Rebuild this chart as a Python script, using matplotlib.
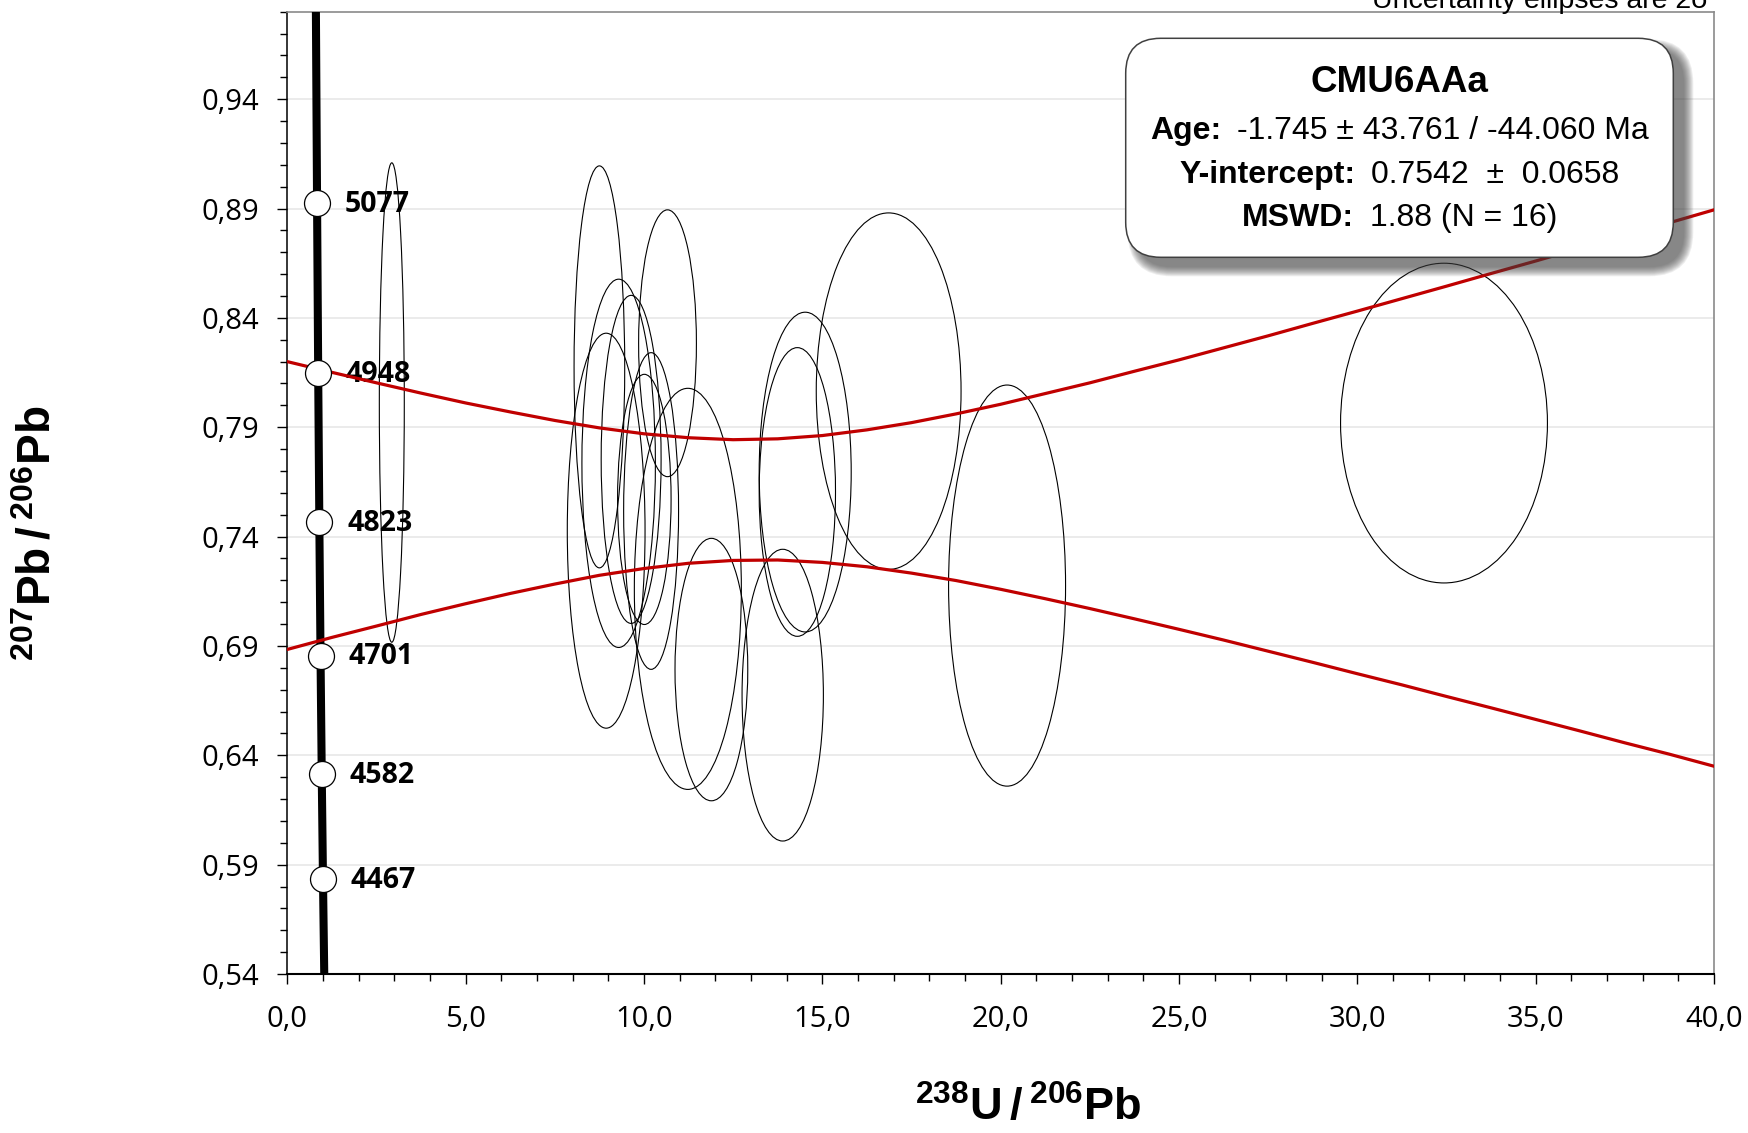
import numpy as np
import matplotlib
matplotlib.use("Agg")
import matplotlib.pyplot as plt
from matplotlib.patches import Ellipse, FancyBboxPatch
from matplotlib.offsetbox import TextArea, HPacker, AnnotationBbox
from matplotlib.ticker import FixedLocator, MultipleLocator, FuncFormatter

plt.rcParams["mathtext.fontset"] = "custom"
plt.rcParams["mathtext.rm"] = "Liberation Sans"
plt.rcParams["mathtext.bf"] = "Liberation Sans:bold"

# Tera-Wasserburg concordia with the labelled ages (Ma)
conc_x = [0.802, 0.8346, 0.8661, 0.8983, 0.9315, 0.9656, 1.0003, 1.036]
conc_y = [0.980, 0.8924, 0.8149, 0.7465, 0.6856, 0.6314, 0.5833, 0.540]
age_ma = ["5077", "4948", "4823", "4701", "4582", "4467"]
age_x = [0.8346, 0.8661, 0.8983, 0.9315, 0.9656, 1.0003]
age_y = [0.8924, 0.8149, 0.7465, 0.6856, 0.6314, 0.5833]

# analyses: 238U/206Pb, 207Pb/206Pb and 2-sigma half widths
ell_x = [2.93, 8.75, 10.66, 9.29, 9.64, 8.94, 10.20, 10.01, 11.23, 11.89, 13.89, 14.52, 14.30, 16.86, 20.18, 32.43]
ell_y = [0.8013, 0.8176, 0.8284, 0.7735, 0.7753, 0.7427, 0.7517, 0.7570, 0.7161, 0.6792, 0.6675, 0.7695, 0.7604, 0.8065, 0.7176, 0.7919]
ell_sx = [0.35, 0.71, 0.81, 1.03, 0.84, 1.09, 0.77, 0.75, 1.50, 1.02, 1.14, 1.29, 1.07, 2.03, 1.64, 2.90]
ell_sy = [0.1096, 0.0919, 0.0610, 0.0842, 0.0750, 0.0903, 0.0724, 0.0572, 0.0917, 0.0600, 0.0667, 0.0731, 0.0660, 0.0815, 0.0917, 0.0731]

# regression error envelope
env_x = [0, 1.25, 2.5, 3.75, 5, 6.25, 7.5, 8.75, 10, 11.25, 12.5, 13.75, 15, 16.25, 17.5, 18.75,
         20, 21.25, 22.5, 23.75, 25, 26.25, 27.5, 28.75, 30, 31.25, 32.5, 33.75, 35, 36.25,
         37.5, 38.75, 40]
env_hi = [0.8200, 0.8151, 0.8103, 0.8056, 0.8011, 0.7970, 0.7931, 0.7897, 0.7870, 0.7852, 0.7843,
          0.7847, 0.7862, 0.7888, 0.7921, 0.7961, 0.8005, 0.8054, 0.8103, 0.8156, 0.8208, 0.8263,
          0.8318, 0.8375, 0.8431, 0.8488, 0.8545, 0.8603, 0.8660, 0.8719, 0.8777, 0.8835, 0.8894]
env_lo = [0.6884, 0.6939, 0.6991, 0.7044, 0.7093, 0.7140, 0.7183, 0.7223, 0.7254, 0.7278, 0.7291,
          0.7293, 0.7282, 0.7262, 0.7233, 0.7199, 0.7159, 0.7116, 0.7071, 0.7024, 0.6976, 0.6927,
          0.6876, 0.6825, 0.6773, 0.6722, 0.6669, 0.6617, 0.6564, 0.6511, 0.6457, 0.6405, 0.6350]

sample = "CMU6AAa"
stats = [("Age:", "-1.745 \u00b1 43.761 / -44.060 Ma"),
         ("Y-intercept:", "0.7542  \u00b1  0.0658"),
         ("MSWD:", "1.88 (N = 16)")]

W, H = 1749, 1133
fig = plt.figure(figsize=(W / 100, H / 100), dpi=100)
ax = fig.add_axes([287.3 / W, 1 - 974 / H, (1714 - 287.3) / W, (974 - 11.7) / H])

ax.set_xlim(0, 40)
ax.set_ylim(0.54, 0.98)
ax.xaxis.set_major_locator(MultipleLocator(5))
ax.xaxis.set_minor_locator(MultipleLocator(1))
ax.yaxis.set_major_locator(FixedLocator(np.arange(0.54, 0.945, 0.05)))
ax.yaxis.set_minor_locator(FixedLocator(np.arange(0.54, 0.985, 0.01)))
ax.xaxis.set_major_formatter(FuncFormatter(lambda v, p: f"{v:.1f}".replace(".", ",")))
ax.yaxis.set_major_formatter(FuncFormatter(lambda v, p: f"{v:.2f}".replace(".", ",")))
ax.yaxis.grid(True, which="major", color="#e6e6e6", lw=1.1)
ax.set_axisbelow(True)

ax.tick_params(which="major", direction="out", length=7.5, width=1, color="black",
               labelsize=21, pad=13)
ax.tick_params(which="minor", direction="out", length=5, width=1, color="black")
ax.tick_params(axis="x", pad=15)
for lab in ax.get_xticklabels() + ax.get_yticklabels():
    lab.set_family("Open Sans")

for side in ("top", "right"):
    ax.spines[side].set_color("#8a8a8a")
    ax.spines[side].set_linewidth(1.2)
ax.spines["left"].set_linewidth(1.1)
ax.spines["bottom"].set_linewidth(1.5)

# concordia
ax.plot(conc_x, conc_y, color="black", lw=5.8, solid_capstyle="butt", zorder=3)

for x, y, sx, sy in zip(ell_x, ell_y, ell_sx, ell_sy):
    ax.add_patch(Ellipse((x, y), 2 * sx, 2 * sy, fill=False, ec="black", lw=0.8, zorder=4))

ax.plot(age_x, age_y, "o", ms=18.7, mfc="white", mec="black", mew=0.9, zorder=6)
for lbl, x, y in zip(age_ma, age_x, age_y):
    ax.annotate(lbl, (x, y), xytext=(20, -1), textcoords="offset points",
                ha="left", va="center", fontsize=20.5, fontweight="bold",
                family="Open Sans", zorder=5)

# error envelope
ax.plot(env_x, env_hi, color="#c00000", lw=2.3, zorder=5.5)
ax.plot(env_x, env_lo, color="#c00000", lw=2.3, zorder=5.5)

fig.text(1028 / W, 1 - 1108 / H, r"$\mathbf{^{238}U\,/\,^{206}Pb}$",
         ha="center", va="center", fontsize=32.5)
fig.text(38 / W, 1 - 533 / H, r"$\mathbf{^{207}Pb\,/\,^{206}Pb}$",
         ha="center", va="center", rotation=90, fontsize=33)

# overlay in pixel coordinates for the info box
ov = fig.add_axes([0, 0, 1, 1], zorder=10)
ov.set_xlim(0, W)
ov.set_ylim(H, 0)
ov.axis("off")
ov.patch.set_alpha(0)

ov.text(1709, 8, "Uncertainty ellipses are 2\u03c3", ha="right", va="baseline",
        fontsize=20.5, family="Liberation Sans")

bx0, by0, bx1, by1 = 1125.7, 38.3, 1673.3, 257.3
for i in range(10):
    grow = 9 - i
    ov.add_patch(FancyBboxPatch((bx0 + 11 - grow, by0 + 10 - grow),
                                bx1 - bx0 + 2 * grow, by1 - by0 + 2 * grow,
                                boxstyle=f"round,pad=0,rounding_size={35 + grow}",
                                fc="#404040", ec="none", alpha=0.09))
ov.add_patch(FancyBboxPatch((bx0, by0), bx1 - bx0, by1 - by0,
                            boxstyle="round,pad=0,rounding_size=35",
                            fc="white", ec="#404040", lw=1.1))

cx = (bx0 + bx1) / 2
ov.text(cx, 83, sample, ha="center", va="center", fontsize=26.5, fontweight="bold",
        family="Liberation Sans")
for (key, val), yy in zip(stats, [131, 175, 218]):
    parts = [TextArea(key, textprops=dict(fontsize=23, fontweight="bold", family="Liberation Sans")),
             TextArea(val, textprops=dict(fontsize=23, family="Liberation Sans"))]
    pack = HPacker(children=parts, sep=11, pad=0, align="baseline")
    ov.add_artist(AnnotationBbox(pack, (cx, yy), xycoords="data", frameon=False,
                                 box_alignment=(0.5, 0.5), pad=0))

fig.savefig("out.png", dpi=100)
